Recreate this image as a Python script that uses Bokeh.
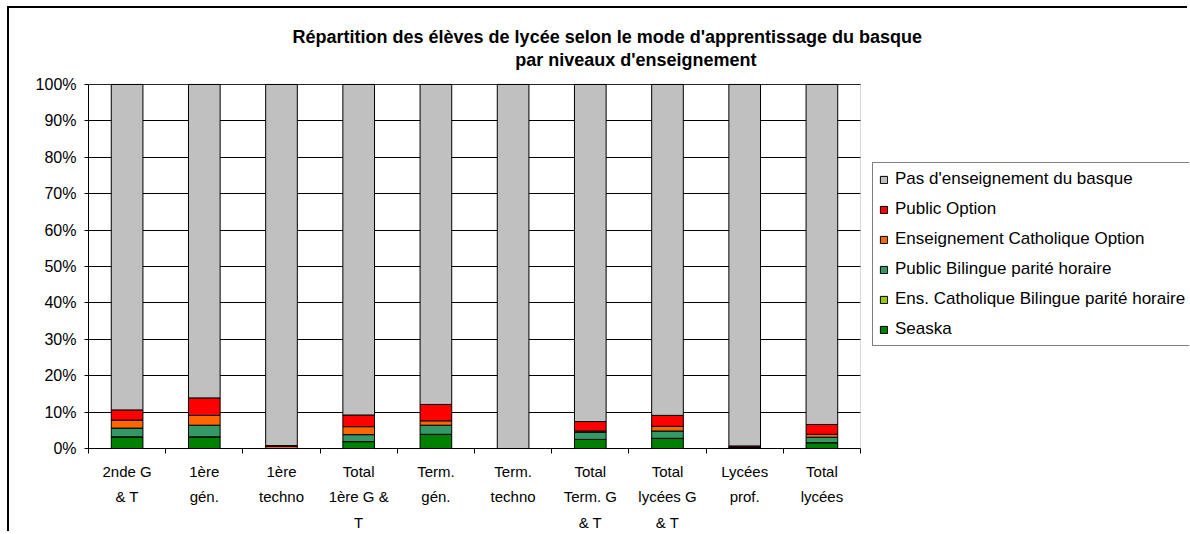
from bokeh.plotting import figure
from bokeh.models import (Range1d, FixedTicker, PrintfTickFormatter, Legend, LegendItem,
                          ColumnDataSource, Label, BoxAnnotation)
from bokeh.embed import file_html
from bokeh.resources import INLINE

categories = ["2nde G\n& T", "1ère\ngén.", "1ère\ntechno", "Total\n1ère G &\nT", "Term.\ngén.",
              "Term.\ntechno", "Total\nTerm. G\n& T", "Total\nlycées G\n& T", "Lycées\nprof.", "Total\nlycées"]

seaska = [3.2, 3.2, 0.0, 1.9, 3.9, 0.0, 2.5, 2.8, 0.2, 1.6]
ens_cath_bil = [0.0, 0.0, 0.0, 0.0, 0.0, 0.0, 0.0, 0.0, 0.0, 0.0]
public_bil = [2.4, 3.2, 0.0, 1.9, 2.5, 0.0, 2.0, 2.0, 0.0, 1.5]
ens_cath_opt = [2.2, 2.7, 0.6, 2.2, 1.2, 0.0, 0.3, 1.3, 0.2, 0.8]
public_opt = [2.8, 4.8, 0.2, 3.2, 4.5, 0.0, 2.6, 3.0, 0.3, 2.7]
pas_basque = [89.4, 86.1, 99.2, 90.8, 87.9, 100.0, 92.6, 90.9, 99.3, 93.4]

series_keys = ["seaska", "ens_cath_bil", "public_bil", "ens_cath_opt", "public_opt", "pas_basque"]
series_names = ["Seaska", "Ens. Catholique Bilingue parité horaire", "Public Bilingue parité horaire",
                "Enseignement Catholique Option", "Public Option", "Pas d'enseignement du basque"]
colors = ["#008000", "#99CC00", "#339966", "#FF6600", "#FF0000", "#C0C0C0"]

title_lines = ["Répartition des élèves de lycée selon le mode d'apprentissage du basque",
               "par niveaux d'enseignement"]
y_ticks = [0, 10, 20, 30, 40, 50, 60, 70, 80, 90, 100]

n = len(categories)
xs = [i + 0.5 for i in range(n)]
source = ColumnDataSource(dict(x=xs, seaska=seaska, ens_cath_bil=ens_cath_bil, public_bil=public_bil,
                               ens_cath_opt=ens_cath_opt, public_opt=public_opt, pas_basque=pas_basque))

FONT = "Liberation Sans"

# layout (pixels)
W, H = 1180, 525
BL, BB = 79, 83
frame_w = W - BL
frame_h = H - BB
area_w = 772.0      # width of the bar area inside the frame
area_h = 365.7      # height of 0..100 % inside the frame
x_end = n * frame_w / area_w
y_end = 100.0 * frame_h / area_h

p = figure(width=W, height=H, output_backend="svg", toolbar_location=None,
           x_range=Range1d(0, x_end), y_range=Range1d(0, y_end), tools="")
p.styles = {"margin-left": "7px", "margin-top": "6px",
            "border-left": "2px solid #000000", "border-top": "2px solid #000000"}
p.min_border_left = BL
p.min_border_right = 0
p.min_border_top = 0
p.min_border_bottom = BB
p.background_fill_color = "white"
p.border_fill_color = "white"
p.outline_line_color = None

# plot area border
p.add_layout(BoxAnnotation(left=0, right=n, bottom=0, top=100, fill_alpha=0, fill_color=None,
                           line_color="#808080", line_width=1, level="underlay"))

# gridlines limited to the plot area
try:
    p.ygrid.cross_bounds = (0, n)
    p.ygrid.ticker = FixedTicker(ticks=y_ticks)
    p.ygrid.grid_line_color = "black"
    p.ygrid.grid_line_width = 1
except AttributeError:
    p.ygrid.grid_line_color = None
    p.segment(x0=[0] * len(y_ticks), x1=[n] * len(y_ticks), y0=y_ticks, y1=y_ticks,
              line_color="black", line_width=1)
p.xgrid.grid_line_color = None

renderers = p.vbar_stack(series_keys, x="x", width=0.41, source=source, color=colors,
                         line_color="black", line_width=1)

# Y axis
p.yaxis.bounds = (0, 100)
p.yaxis.ticker = FixedTicker(ticks=y_ticks)
p.yaxis.formatter = PrintfTickFormatter(format="%d%%")
p.yaxis.major_tick_out = 4
p.yaxis.major_tick_in = 0
p.yaxis.minor_tick_line_color = None
p.yaxis.axis_line_color = "black"
p.yaxis.major_tick_line_color = "black"
p.yaxis.major_label_text_font = FONT
p.yaxis.major_label_text_font_size = "16px"
p.yaxis.major_label_text_color = "black"
p.yaxis.major_label_standoff = 8

# X axis
p.xaxis.bounds = (0, n)
p.xaxis.ticker = FixedTicker(ticks=xs, minor_ticks=list(range(n + 1)))
p.xaxis.major_label_overrides = {x: c for x, c in zip(xs, categories)}
p.xaxis.major_tick_out = 0
p.xaxis.major_tick_in = 0
p.xaxis.minor_tick_out = 5
p.xaxis.minor_tick_in = 0
p.xaxis.minor_tick_line_color = "black"
p.xaxis.axis_line_color = "black"
p.xaxis.major_label_text_font = FONT
p.xaxis.major_label_text_font_size = "15px"
p.xaxis.major_label_text_color = "black"
p.xaxis.major_label_text_line_height = 1.5
p.xaxis.major_label_standoff = 9

# Title lines
p.add_layout(Label(x=6.72, y=112.9, text=title_lines[0], text_align="center", text_baseline="middle",
                   text_font=FONT, text_font_size="18px", text_font_style="bold", text_color="black"))
p.add_layout(Label(x=7.09, y=106.6, text=title_lines[1], text_align="center", text_baseline="middle",
                   text_font=FONT, text_font_size="18px", text_font_style="bold", text_color="black"))

items = [LegendItem(label=name, renderers=[r]) for name, r in zip(series_names, renderers)][::-1]
legend = Legend(items=items, location=(784, 102), orientation="vertical",
                label_text_font=FONT, label_text_font_size="17px", label_text_color="black",
                glyph_width=9, glyph_height=9, label_height=20, spacing=10, padding=6,
                label_standoff=7, margin=0, border_line_color="black", border_line_width=1,
                background_fill_color="white", background_fill_alpha=1.0)
p.add_layout(legend, "center")

open("out.html", "w").write(file_html(p, INLINE))
